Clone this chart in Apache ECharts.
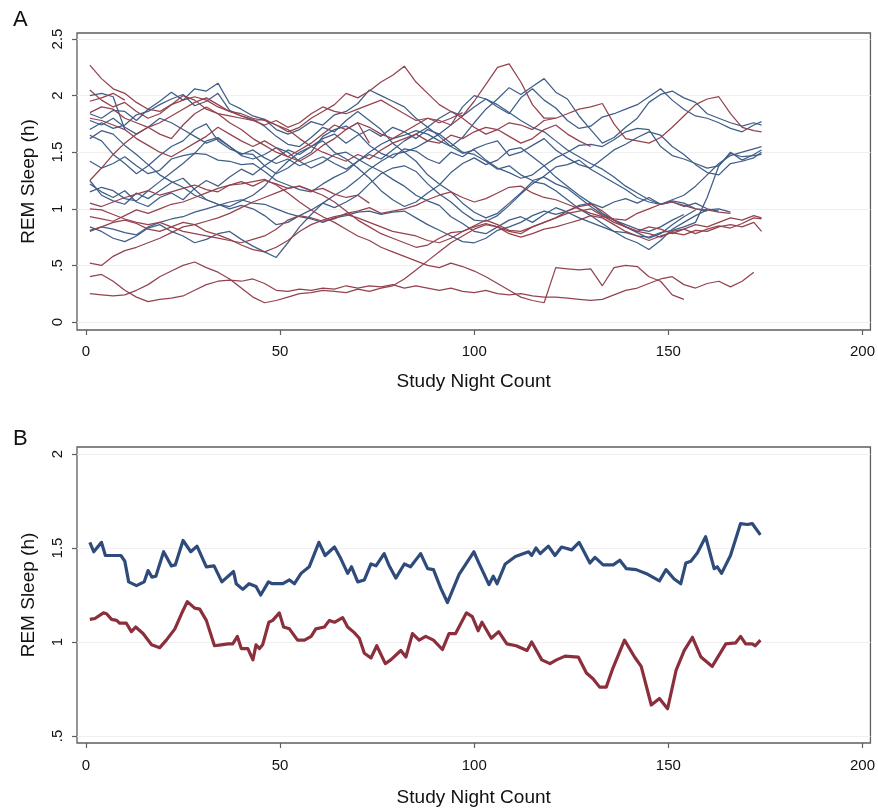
<!DOCTYPE html>
<html>
<head>
<meta charset="utf-8">
<script src="https://cdn.jsdelivr.net/npm/echarts@6/dist/echarts.min.js"></script>
<style>
html,body{margin:0;padding:0;background:#fff;}
#chart{width:878px;height:808px;}
</style>
</head>
<body>
<div id="chart"></div>
<script>
// ---------- Panel A: individual participants (every 3rd night) ----------
const nightsA = [1,4,7,10,13,16,19,22,25,28, 31,34,37,40,43,46,49,52,55,58, 61,64,67,70,73,76,79,82,85,88, 91,94,97,100,103,106,109,112,115,118, 121,124,127,130,133,136,139,142,145,148, 151,154,157,160,163,166,169,172,174];

const blueA1 = [2.00,2.02,1.99,1.70];
const blueA2 = [1.84,1.80,1.87,1.86,1.78,1.88,1.95,2.03,1.96,2.06, 2.04,2.11,1.93,1.88,1.82,1.79,1.70,1.66,1.70,1.77, 1.74,1.83,1.86,1.93,2.05,2.00,1.95,1.90,1.80,1.72, 1.64,1.55,1.63,1.76,1.88,1.97,2.07,2.01,2.08,2.15, 2.03,1.97,1.82,1.70,1.58,1.63,1.72,1.80,1.94,2.01, 2.04,1.98,1.94,1.84,1.80,1.76,1.73,1.76,1.74];
const blueA3 = [1.70,1.76,1.71,1.74,1.83,1.86,1.92,1.97,2.01,1.91, 1.95,2.02,1.87,1.82,1.79,1.73,1.64,1.57,1.55,1.63, 1.72,1.68,1.78,1.86,1.78,1.70,1.58,1.50,1.54,1.60, 1.66,1.74,1.90,2.00,1.97,1.90,1.84,1.98,2.06,1.96, 1.89,1.78,1.71,1.73,1.81,1.84,1.88,1.92,1.99,2.06, 1.96,1.88,1.82,1.80,1.76,1.71,1.68,1.74,1.77];
const blueA4 = [1.65,1.60,1.48,1.40,1.31,1.38,1.47,1.55,1.60,1.70, 1.75,1.60,1.53,1.49,1.48,1.38,1.31,1.36,1.44,1.50, 1.64,1.70,1.73,1.67,1.56,1.49,1.45,1.53,1.51,1.44, 1.40,1.50,1.46,1.53,1.57,1.60,1.47,1.50,1.56,1.62, 1.52,1.45,1.39,1.36,1.44,1.52,1.57,1.63,1.68,1.65, 1.55,1.48,1.39,1.32,1.30,1.40,1.42,1.45,1.50];
const blueA5 = [1.42,1.36,1.40,1.46,1.38,1.31,1.34,1.44,1.47,1.49, 1.48,1.43,1.42,1.39,1.40,1.33,1.25,1.21,1.17,1.15, 1.22,1.28,1.33,1.42,1.50,1.57,1.62,1.65,1.69,1.66, 1.60,1.55,1.49,1.52,1.43,1.36,1.32,1.27,1.30,1.38, 1.45,1.50,1.56,1.57,1.55,1.61,1.68,1.71,1.70,1.55, 1.47,1.44,1.40,1.36,1.38,1.49,1.46,1.47,1.48];
const blueA6 = [1.25,1.12,1.07,1.04,1.14,1.09,1.16,1.23,1.27,1.17, 1.08,1.04,1.00,1.03,1.00,0.94,0.86,0.88,0.94,0.99, 1.05,1.01,1.06,1.12,1.22,1.31,1.36,1.38,1.33,1.22, 1.13,1.06,0.97,0.90,0.89,0.94,1.03,1.13,1.22,1.29, 1.37,1.39,1.43,1.35,1.29,1.23,1.17,1.10,1.06,1.04, 1.08,1.12,1.20,1.30,1.40,1.47,1.50,1.53,1.55];
const blueA7 = [1.15,1.19,1.16,1.09,1.07,1.16,1.24,1.32,1.40,1.49, 1.60,1.63,1.55,1.47,1.44,1.48,1.54,1.50,1.42,1.36, 1.41,1.48,1.50,1.44,1.38,1.33,1.26,1.20,1.12,1.07, 1.03,0.93,0.87,0.80,0.78,0.84,0.90,0.93,0.88,0.95, 1.01,0.97,0.92,0.88,0.84,0.80,0.79,0.76,0.75,0.79, 0.81,0.84,0.88,1.10,1.38,1.50,1.43,1.48,1.52];
const blueA8 = [0.84,0.80,0.74,0.71,0.76,0.83,0.86,0.80,0.76,0.70, 0.73,0.78,0.80,0.73,0.67,0.62,0.57,0.70,0.84,0.95, 1.05,1.12,1.18,1.26,1.35,1.42,1.48,1.50,1.42,1.30, 1.22,1.15,1.05,0.97,0.92,0.96,1.05,1.14,1.24,1.22, 1.16,1.08,1.00,0.94,0.87,0.80,0.74,0.70,0.64,0.72, 0.82,0.88,0.94,0.99,1.00,0.97];
const blueA9 = [0.80,0.84,0.82,0.79,0.77,0.84,0.88,0.91,0.93,0.97, 1.00,1.03,1.06,1.08,1.05,1.04,1.00,0.96,0.93,0.91, 0.88,0.92,0.94,0.97,0.98,0.95,0.97,0.98,0.92,0.86, 0.81,0.76,0.71,0.70,0.74,0.81,0.84,0.88,0.94,0.98, 0.95,0.98,1.03,1.05,1.01,1.06,1.09,1.05,1.10,1.04, 1.07,1.05,1.00,0.98];
const blueA10 = [1.62,1.69,1.66,1.56,1.48,1.39,1.30,1.24,1.19,1.12, 1.08,1.04,1.02,1.07,1.12,1.20,1.32,1.42,1.50,1.55, 1.60,1.50,1.44,1.36,1.27,1.16,1.08,1.02,1.06,1.14, 1.21,1.32,1.40,1.45,1.39,1.43,1.52,1.54,1.46,1.38, 1.28,1.20,1.12,1.05,0.96,0.90,0.84,0.79,0.74,0.78, 0.86,0.93,0.99];
const blueA11 = [1.78,1.74,1.80,1.72,1.66,1.72,1.80,1.76,1.70,1.64, 1.58,1.62,1.55,1.48,1.52,1.45,1.40,1.44,1.38,1.42, 1.46,1.40,1.35,1.42,1.48,1.44,1.52,1.60,1.66,1.72, 1.80,1.86,1.82,1.90,1.97,1.92,1.85,1.78,1.72,1.68, 1.60,1.52,1.46,1.40,1.35,1.28,1.20,1.14,1.08,1.04, 1.06,1.02,1.05,1.00,0.98];
const blueA12 = [1.22,1.15,1.10,1.16,1.06,1.02,1.10,1.14,1.08,1.18, 1.25,1.20,1.28,1.35,1.30,1.38,1.45,1.52,1.48,1.55, 1.62,1.66,1.58,1.65,1.70,1.64,1.72,1.68,1.62,1.70, 1.66,1.58,1.50,1.48,1.42,1.35,1.38,1.30,1.25,1.28, 1.22,1.18,1.10,1.02,0.95,0.90,0.86,0.82,0.80,0.84, 0.90,0.95];

const redA1 = [2.27,2.15,2.06,2.02,1.94,1.88,1.86,1.92,1.96,1.99, 1.96,1.90,1.86,1.84,1.80,1.78,1.74,1.70,1.62,1.55, 1.50,1.46,1.42,1.48,1.44,1.52,1.58,1.62,1.66,1.60, 1.58,1.65,1.62,1.68,1.72,1.70,1.76,1.74,1.70,1.78, 1.80,1.84,1.88,1.90,1.93,1.75,1.62,1.60,1.58,1.63, 1.72,1.82,1.92,1.97,1.99,1.84,1.72,1.69,1.68];
const redA2 = [1.85,1.90,1.88,1.80,1.76,1.72,1.66,1.62,1.74,1.84, 1.90,1.84,1.76,1.70,1.62,1.56,1.50,1.46,1.52,1.58, 1.66,1.74,1.70,1.76,1.72,1.66,1.62,1.68,1.74,1.80, 1.78,1.74,1.82,1.95,2.10,2.25,2.28,2.12,1.92,1.80, 1.80];
const redA3 = [2.05,1.96,1.90,1.94,1.86,1.80,1.84,1.92,2.00,1.96, 1.88,1.84,1.82,1.80,1.78,1.79,1.74,1.68,1.72,1.80, 1.86,1.92,2.02,1.98,2.04,2.12,2.18,2.26,2.12,2.02, 1.92,1.86,1.80,1.72,1.66,1.70,1.64,1.58,1.62,1.70, 1.74,1.66,1.60,1.55];
const redA4 = [1.80,1.78,1.74,1.70,1.62,1.56,1.50,1.46,1.52,1.58, 1.64,1.72,1.66,1.60,1.55,1.60,1.54,1.46,1.42,1.48, 1.56,1.62,1.70,1.76,1.58];
const redA5 = [1.25,1.36,1.48,1.58,1.66,1.72,1.76,1.82,1.88,1.94, 1.98,1.92,1.86,1.82,1.78,1.74,1.78,1.72,1.76,1.84, 1.90,1.86,1.84,1.88,1.92,1.96,1.90,1.84,1.78,1.80, 1.76,1.80,1.85];
const redA6 = [1.05,1.02,1.06,1.10,1.13,1.16,1.12,1.15,1.18,1.21, 1.17,1.15,1.21,1.24,1.20,1.25,1.22,1.18,1.20,1.16, 1.18,1.13,1.10,1.12,1.05];
const redA7 = [1.00,0.99,0.95,0.91,0.88,0.86,0.88,0.84,0.80,0.78, 0.76,0.74,0.72,0.70,0.73,0.76,0.82,0.90,0.94,0.92, 0.89,0.91,0.96,0.98,1.01,0.96,0.98,1.00,1.03,1.08, 1.12,1.15,1.10,1.06,1.09,1.14,1.19,1.20,1.14,1.10, 1.08,1.04,1.00,0.96,0.93,0.91,0.90,0.96,1.00,1.04, 1.06,1.03,1.00,0.99,0.97,0.96];
const redA8 = [0.93,0.91,0.89,0.94,0.99,0.96,1.00,1.04,1.06,1.10, 1.14,1.18,1.21,1.22,1.24,1.26,1.21,1.14,1.06,0.99, 0.93,0.88,0.82,0.76,0.72,0.66,0.62,0.58,0.54,0.50, 0.48,0.52,0.49,0.45,0.40,0.34,0.28,0.22,0.19,0.17, 0.48,0.47,0.46,0.47,0.32,0.48,0.50,0.49,0.40,0.36, 0.24,0.20];
const redA9 = [0.81,0.84,0.88,0.90,0.87,0.82,0.80,0.84,0.88,0.86, 0.80,0.77,0.73,0.68,0.64,0.62,0.66,0.72,0.80,0.86, 0.90,0.93,0.95,0.92,0.88,0.84,0.80,0.78,0.76,0.72, 0.70,0.74,0.80,0.85,0.90,0.86,0.81,0.80,0.84,0.88, 0.92,0.96,0.98,1.00,0.94,0.88,0.84,0.80,0.78,0.75, 0.80,0.82,0.78,0.82,0.85,0.83,0.87,0.92,0.91];
const redA10 = [0.52,0.50,0.58,0.63,0.66,0.70,0.74,0.79,0.84,0.86, 0.89,0.92,0.96,1.01,1.06,1.10,1.14,1.18,1.20,1.16, 1.12,1.06,0.98,0.90,0.84,0.78,0.74,0.70,0.66,0.68, 0.74,0.79,0.80,0.84,0.87,0.84,0.78,0.75,0.78,0.82, 0.84,0.87,0.90,0.94,0.92,0.86,0.80,0.76,0.72,0.76, 0.79,0.77,0.81,0.80,0.84,0.86,0.84,0.88,0.80];
const redA11 = [0.40,0.42,0.36,0.28,0.22,0.18,0.20,0.21,0.23,0.28, 0.33,0.36,0.37,0.36,0.38,0.34,0.28,0.27,0.29,0.28, 0.30,0.29,0.32,0.30,0.32,0.31,0.33,0.30,0.32,0.30, 0.28,0.30,0.27,0.26,0.28,0.25,0.24,0.25,0.23,0.22, 0.22,0.21,0.20,0.19,0.20,0.24,0.28,0.30,0.34,0.38, 0.40,0.33,0.30,0.34,0.36,0.31,0.36,0.44];
const redA12 = [0.25,0.24,0.23,0.24,0.28,0.33,0.40,0.45,0.50,0.53, 0.48,0.44,0.38,0.30,0.22,0.17,0.19,0.22,0.25,0.26, 0.28,0.27,0.26,0.29,0.27,0.30,0.32,0.38,0.46,0.54, 0.62,0.70,0.76,0.82,0.86,0.84,0.80,0.78,0.84,0.88, 0.92,0.98,1.02,1.04,0.98,0.90,0.84,0.80,0.84,0.82, 0.78,0.82,0.86,0.84,0.88,0.92,0.90,0.94,0.92];
const redA13 = [1.95,1.98,2.02,1.96];

const blueSeriesA = [blueA1,blueA2,blueA3,blueA4,blueA5,blueA6,blueA7,blueA8,blueA9,blueA10,blueA11,blueA12];
const redSeriesA = [redA1,redA2,redA3,redA4,redA5,redA6,redA7,redA8,redA9,redA10,redA11,redA12,redA13];

// ---------- Panel B: group averages ----------
const nightsBBlue = [1,2,4,5,9,10,11,13,15,16,17,18,20,22,23,25,27,28.6,31,33,35,38,38.7,40.4,42,43.8,45,47,48,50.7,52.4,53.7,55.4,57.5,60,61.6,64,65.6,67.4,68.4,70,71.7,73.4,74.7,76.8,78,79.8,82,83.6,86.2,88,89.5,91.4,93.1,96.1,99.9,101.2,103.8,104.9,105.9,108,110.6,114,114.8,115.9,117,119.1,120.8,122.5,125.1,127,129.8,131.1,133.2,135.8,137.5,139.2,141.7,144.7,147.7,149.4,151.5,153.2,154.5,155.8,157.5,159.6,161.8,162.6,163.7,166,168.6,170.3,171.6,173.7];
const valuesBBlue = [1.53,1.48,1.53,1.46,1.46,1.43,1.32,1.30,1.32,1.38,1.345,1.35,1.48,1.405,1.41,1.54,1.48,1.51,1.40,1.405,1.32,1.375,1.31,1.28,1.31,1.295,1.25,1.32,1.31,1.31,1.33,1.31,1.365,1.40,1.53,1.46,1.505,1.445,1.365,1.40,1.32,1.33,1.415,1.405,1.47,1.41,1.34,1.415,1.40,1.47,1.39,1.385,1.285,1.21,1.36,1.48,1.42,1.305,1.35,1.31,1.415,1.455,1.48,1.46,1.50,1.47,1.51,1.46,1.505,1.49,1.53,1.42,1.45,1.41,1.41,1.435,1.39,1.385,1.36,1.325,1.385,1.335,1.31,1.42,1.43,1.475,1.56,1.39,1.40,1.365,1.46,1.63,1.625,1.63,1.57];

const nightsBRed = [1,2.3,4.5,5.3,6.6,7.9,8.7,10.4,11.7,12.8,14.7,16.9,19,20.7,22.9,24.6,26.1,28,29.3,31,33.1,34.8,36.6,37.8,39,40,41.7,43,43.8,44.7,45.5,47.1,48.1,49.8,50.9,52.4,54.5,56.3,58,59.2,61.4,62.7,64,66.1,67.4,69.1,70.4,71.7,73.4,74.9,77.1,78.5,81.1,82.4,84.1,85.8,87.5,89.5,91.8,93.5,95.2,98,99.5,101,102,104.4,106.3,108.4,110.8,113.6,114.8,117.4,119.5,121.2,123.4,126.8,128.9,130.6,132.3,134,135.7,138.7,141.3,143,145.6,147.7,149.8,152,154.1,156.2,158.4,161.3,164.8,167.3,168.6,169.9,171.6,172.4,173.7];
const valuesBRed = [1.12,1.125,1.155,1.15,1.12,1.115,1.10,1.10,1.055,1.08,1.045,0.985,0.97,1.01,1.07,1.15,1.215,1.18,1.175,1.115,0.98,0.985,0.99,0.99,1.03,0.965,0.965,0.905,0.985,0.965,0.985,1.105,1.115,1.155,1.08,1.07,1.01,1.01,1.03,1.07,1.08,1.115,1.105,1.13,1.08,1.05,1.02,0.94,0.915,0.98,0.885,0.905,0.955,0.92,1.045,1.01,1.03,1.01,0.96,1.045,1.045,1.155,1.135,1.06,1.105,1.02,1.055,0.99,0.98,0.955,1.00,0.905,0.885,0.905,0.925,0.92,0.835,0.805,0.76,0.76,0.86,1.01,0.92,0.87,0.665,0.70,0.645,0.85,0.955,1.025,0.92,0.87,0.99,0.995,1.03,0.99,0.99,0.98,1.01];

// ---------- axis ticks ----------
const xTicks = [0,50,100,150,200];
const yTicksA = [0,0.5,1,1.5,2,2.5];
const yTicksB = [0.5,1,1.5,2];

const BLUE_A = '#3f5e88', RED_A = '#94434e';
const BLUE_B = '#2f4b7c', RED_B = '#8b2f3c';
const FRAME = '#5e5e5e';
const FONT = '"Liberation Sans", Arial, Helvetica, sans-serif';

function pairs(xs, ys){ return ys.map((v,i)=>[xs[i], v]); }
function fmtY(v){ return String(v).replace(/^0\./,'.'); }

const chart = echarts.init(document.getElementById('chart'), null, {renderer:'canvas'});

const grids = [
  {left:77, top:33, width:796, height:297, show:true, borderColor:FRAME, borderWidth:1.3, backgroundColor:'transparent'},
  {left:77, top:447, width:796, height:296, show:true, borderColor:FRAME, borderWidth:1.3, backgroundColor:'transparent'}
];

function xAxisFor(g, nameGap, margin){
  return {
    gridIndex:g, type:'value', min:-2.31, max:202.05, position:'bottom',
    name:'Study Night Count', nameLocation:'middle', nameGap:nameGap,
    nameTextStyle:{fontFamily:FONT, fontSize:19, color:'#111'},
    axisLine:{show:false, onZero:false},
    axisTick:{show:true, inside:false, length:5, customValues:xTicks, lineStyle:{color:FRAME, width:1.2}},
    axisLabel:{fontFamily:FONT, fontSize:15, color:'#111', margin:margin, customValues:xTicks},
    splitLine:{show:false}
  };
}
function yAxisFor(g, min, max, ticks){
  return {
    gridIndex:g, type:'value', min:min, max:max, position:'left',
    name:'REM Sleep (h)', nameLocation:'middle', nameGap:39, nameRotate:90,
    nameTextStyle:{fontFamily:FONT, fontSize:19, color:'#111'},
    axisLine:{show:false, onZero:false},
    axisTick:{show:true, inside:false, length:5, customValues:ticks, lineStyle:{color:FRAME, width:1.2}},
    axisLabel:{fontFamily:FONT, fontSize:15, color:'#111', margin:12, rotate:90, formatter:fmtY, customValues:ticks},
    splitLine:{show:false}
  };
}
function gridLineSeries(axisIdx, ticks){
  return {
    type:'line', xAxisIndex:axisIdx, yAxisIndex:axisIdx, data:[], silent:true, z:1,
    markLine:{silent:true, z:1, symbol:['none','none'], label:{show:false}, animation:false,
      lineStyle:{color:'#f0f0f0', width:1, type:'solid'},
      emphasis:{disabled:true},
      data:ticks.map(t=>({yAxis:t}))}
  };
}

const series = [gridLineSeries(0, yTicksA), gridLineSeries(1, yTicksB)];
blueSeriesA.forEach(arr=>series.push({
  type:'line', xAxisIndex:0, yAxisIndex:0, data:pairs(nightsA, arr), showSymbol:false, silent:true,
  lineStyle:{color:BLUE_A, width:1.25}, z:3
}));
redSeriesA.forEach(arr=>series.push({
  type:'line', xAxisIndex:0, yAxisIndex:0, data:pairs(nightsA, arr), showSymbol:false, silent:true,
  lineStyle:{color:RED_A, width:1.25}, z:3
}));
series.push({type:'line', xAxisIndex:1, yAxisIndex:1, data:pairs(nightsBBlue, valuesBBlue), showSymbol:false, silent:true,
  lineStyle:{color:BLUE_B, width:3.2, join:'round'}, z:3});
series.push({type:'line', xAxisIndex:1, yAxisIndex:1, data:pairs(nightsBRed, valuesBRed), showSymbol:false, silent:true,
  lineStyle:{color:RED_B, width:3.2, join:'round'}, z:3});

chart.setOption({
  animation:false,
  backgroundColor:'#fff',
  grid:grids,
  xAxis:[xAxisFor(0, 42, 14), xAxisFor(1, 45, 15)],
  yAxis:[yAxisFor(0, -0.0707, 2.553, yTicksA), yAxisFor(1, 0.4628, 2.0372, yTicksB)],
  title:[
    {text:'A', left:8, top:4, textStyle:{fontFamily:FONT, fontSize:22, fontWeight:'normal', color:'#111'}},
    {text:'B', left:8, top:423, textStyle:{fontFamily:FONT, fontSize:22, fontWeight:'normal', color:'#111'}}
  ],
  series:series
});
</script>
</body>
</html>
